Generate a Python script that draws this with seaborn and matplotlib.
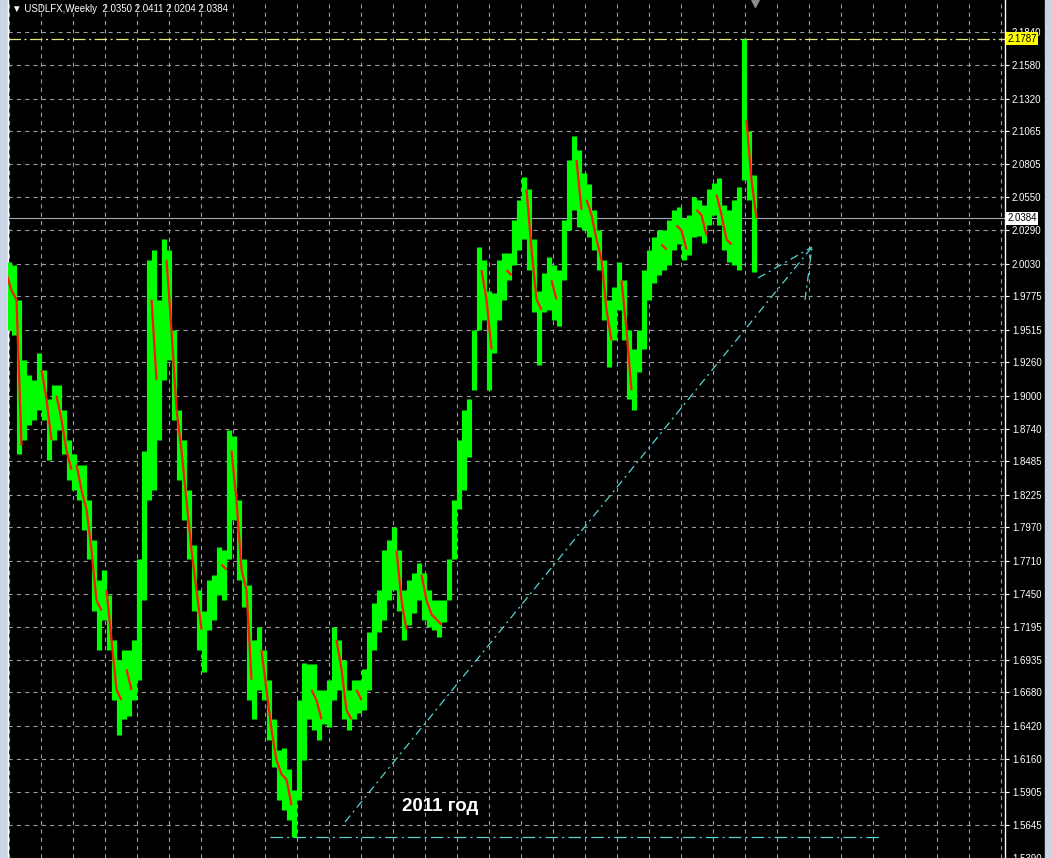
import matplotlib
matplotlib.use("Agg")
import matplotlib.pyplot as plt
import matplotlib.transforms as mtransforms
from matplotlib.patches import Rectangle
from matplotlib.collections import LineCollection
import seaborn as sns
import pandas as pd
import numpy as np

symbol = "USDLFX,Weekly"
last_ohlc = ["2.0350", "2.0411", "2.0204", "2.0384"]

# weekly bars, squeezed (one entry ~ 5 screen bars)
highs = [
    2.004, 2.002, 1.975, 1.928, 1.916, 1.912, 1.933, 1.920, 1.897, 1.908,
    1.908, 1.889, 1.865, 1.854, 1.846, 1.846, 1.818, 1.787, 1.756, 1.764,
    1.744, 1.709, 1.693, 1.701, 1.701, 1.709, 1.772, 1.857, 2.006, 2.014,
    1.975, 2.022, 2.014, 1.951, 1.889, 1.865, 1.826, 1.783, 1.748, 1.732,
    1.756, 1.760, 1.782, 1.779, 1.873, 1.868, 1.818, 1.772, 1.752, 1.709,
    1.719, 1.701, 1.678, 1.647, 1.623, 1.625, 1.608, 1.592, 1.662, 1.691,
    1.690, 1.690, 1.670, 1.670, 1.678, 1.719, 1.709, 1.693, 1.670, 1.678,
    1.678, 1.686, 1.715, 1.738, 1.748, 1.779, 1.787, 1.797, 1.779, 1.748,
    1.756, 1.761, 1.769, 1.761, 1.748, 1.740, 1.740, 1.740, 1.772, 1.818,
    1.865, 1.889, 1.897, 1.951, 2.016, 2.006, 1.982, 1.980, 2.006, 2.011,
    2.011, 2.037, 2.053, 2.071, 2.061, 2.022, 1.982, 1.996, 2.008, 2.002,
    1.998, 2.037, 2.084, 2.103, 2.092, 2.074, 2.065, 2.045, 2.029, 2.006,
    1.975, 1.985, 2.004, 1.990, 1.951, 1.936, 1.951, 1.998, 2.014, 2.024,
    2.029, 2.029, 2.037, 2.045, 2.047, 2.039, 2.041, 2.055, 2.053, 2.049,
    2.061, 2.066, 2.070, 2.049, 2.045, 2.053, 2.063, 2.1787, 2.107, 2.072,
]
lows = [
    1.951, 1.947, 1.854, 1.865, 1.877, 1.881, 1.889, 1.881, 1.850, 1.865,
    1.873, 1.854, 1.834, 1.826, 1.818, 1.795, 1.772, 1.732, 1.701, 1.725,
    1.701, 1.662, 1.635, 1.647, 1.650, 1.662, 1.678, 1.740, 1.818, 1.826,
    1.865, 1.912, 1.928, 1.881, 1.834, 1.803, 1.772, 1.732, 1.701, 1.684,
    1.717, 1.725, 1.744, 1.740, 1.772, 1.803, 1.756, 1.735, 1.662, 1.647,
    1.670, 1.662, 1.631, 1.610, 1.584, 1.576, 1.568, 1.5551, 1.584, 1.615,
    1.647, 1.639, 1.631, 1.643, 1.641, 1.662, 1.670, 1.647, 1.639, 1.647,
    1.652, 1.654, 1.670, 1.701, 1.715, 1.725, 1.740, 1.748, 1.732, 1.709,
    1.721, 1.730, 1.740, 1.725, 1.719, 1.717, 1.711, 1.723, 1.740, 1.772,
    1.811, 1.826, 1.852, 1.904, 1.951, 1.959, 1.904, 1.933, 1.959, 1.975,
    1.990, 2.002, 2.014, 2.022, 1.998, 1.965, 1.924, 1.965, 1.967, 1.959,
    1.954, 1.990, 2.029, 2.045, 2.032, 2.029, 2.024, 2.014, 1.998, 1.959,
    1.922, 1.943, 1.967, 1.943, 1.897, 1.889, 1.918, 1.936, 1.975, 1.988,
    1.994, 1.998, 2.002, 2.014, 2.018, 2.006, 2.010, 2.024, 2.025, 2.019,
    2.033, 2.041, 2.033, 2.014, 2.004, 2.002, 1.998, 2.068, 2.053, 1.9965,
]
closes = [
    1.982, 1.975, 1.861, 1.897, 1.900, 1.904, 1.920, 1.897, 1.865, 1.900,
    1.881, 1.857, 1.842, 1.846, 1.826, 1.811, 1.779, 1.740, 1.732, 1.748,
    1.709, 1.670, 1.662, 1.686, 1.670, 1.693, 1.756, 1.834, 1.975, 1.912,
    1.959, 2.006, 1.951, 1.889, 1.857, 1.818, 1.779, 1.748, 1.717, 1.725,
    1.740, 1.748, 1.768, 1.764, 1.857, 1.818, 1.764, 1.748, 1.678, 1.693,
    1.701, 1.670, 1.639, 1.615, 1.604, 1.600, 1.580, 1.584, 1.647, 1.662,
    1.670, 1.662, 1.647, 1.662, 1.670, 1.709, 1.686, 1.654, 1.647, 1.670,
    1.662, 1.678, 1.709, 1.732, 1.740, 1.772, 1.772, 1.779, 1.740, 1.717,
    1.748, 1.756, 1.760, 1.740, 1.729, 1.725, 1.721, 1.732, 1.764, 1.811,
    1.842, 1.881, 1.889, 1.943, 1.998, 1.975, 1.936, 1.959, 1.998, 1.998,
    1.994, 2.029, 2.045, 2.061, 2.014, 1.975, 1.967, 1.982, 1.990, 1.975,
    1.990, 2.029, 2.076, 2.084, 2.045, 2.053, 2.041, 2.022, 2.006, 1.967,
    1.943, 1.975, 1.990, 1.951, 1.904, 1.928, 1.943, 1.982, 2.006, 2.014,
    2.018, 2.014, 2.022, 2.033, 2.029, 2.014, 2.025, 2.045, 2.041, 2.025,
    2.053, 2.057, 2.041, 2.022, 2.018, 2.029, 2.057, 2.115, 2.068, 2.0384,
]
first_open = 1.995

price_ticks = [2.1840, 2.1580, 2.1320, 2.1065, 2.0805, 2.0550, 2.0290, 2.0030,
               1.9775, 1.9515, 1.9260, 1.9000, 1.8740, 1.8485, 1.8225, 1.7970,
               1.7710, 1.7450, 1.7195, 1.6935, 1.6680, 1.6420, 1.6160, 1.5905,
               1.5645, 1.5390]
max_level = 2.1787
last_price = 2.0384
low_level = 1.5551
note = "2011 год"

df = pd.DataFrame({"high": highs, "low": lows, "close": closes})
df["bar"] = np.arange(len(df))
df["open"] = df["close"].shift(1).fillna(first_open)
down = df[df["close"] < df["open"]]

sns.set_theme(style="dark", rc={
    "axes.facecolor": "black",
    "figure.facecolor": "black",
    "lines.scale_dashes": False,
})
plt.rcParams["font.family"] = ["Liberation Sans", "DejaVu Sans"]

fig = plt.figure(figsize=(10.52, 8.58), dpi=100)
# window frame strips left / right
fig.patches.append(Rectangle((0, 0), 7 / 1052, 1, transform=fig.transFigure,
                             color="#c9d5e6", zorder=-1))
fig.patches.append(Rectangle((1045 / 1052, 0), 7 / 1052, 1, transform=fig.transFigure,
                             color="#c9d5e6", zorder=-1))
ax = fig.add_axes([8 / 1052, 0, 997 / 1052, 1])
ax.set_facecolor("black")

ax.set_xlim(-0.2, 199.2)
ax.set_ylim(1.5387, 2.209)

# grid
ax.set_xticks(np.arange(0, 200, 6.4))
ax.set_yticks(price_ticks)
ax.set_yticklabels([f"{v:.4f}" for v in price_ticks])
ax.set_axisbelow(True)
ax.grid(True, color="#9c9c9c", linestyle=(0, (3, 3)), linewidth=0.8)

ax.yaxis.tick_right()
ax.tick_params(axis="x", length=0, labelbottom=False)
ax.tick_params(axis="y", colors="white", labelcolor="white", labelsize=7,
               length=3, width=0.8, pad=2, direction="out")
for side in ["top", "bottom"]:
    ax.spines[side].set_visible(False)
for side in ["left", "right"]:
    ax.spines[side].set_visible(True)
    ax.spines[side].set_color("white")
    ax.spines[side].set_linewidth(1.0)

# level lines
ax.axhline(last_price, color="#a4acb4", lw=0.8, zorder=1.5)
ax.axhline(max_level, color="#e6e67a", lw=0.9, linestyle=(0, (9, 2.5, 1.5, 2.5)), zorder=1.5)

# bars: green high-low, red trace through the falling weeks
ax.vlines(df["bar"], df["low"], df["high"], color="#00ff00", lw=3.7, zorder=3)
red_segs = [[(b - 0.5, o), (b + 0.5, c)] for b, o, c in
            zip(down["bar"], down["open"], down["close"])]
ax.add_collection(LineCollection(red_segs, colors="#ff1500", linewidths=1.6, zorder=4))

# hand drawn objects
cyan = "#55d4d4"
dashdot = (0, (6, 3, 1.5, 3))
ax.plot([52.2, 174.2], [low_level, low_level], color=cyan, lw=0.9,
        linestyle=(0, (9, 3, 1.5, 3)), zorder=2)
ax.plot([67.2, 160.6], [1.5668, 2.016], color=cyan, lw=0.9, linestyle=dashdot, zorder=2)
ax.plot([149.8, 160.6], [1.9918, 2.016], color=cyan, lw=0.9, linestyle=dashdot, zorder=2)
ax.plot([159.2, 160.6], [1.9746, 2.016], color=cyan, lw=0.9, linestyle=dashdot, zorder=2)
ax.text(78.6, 1.5793, note, color="white", fontsize=13.5, fontweight="bold",
        ha="left", va="center", zorder=6)

# chart shift marker
ax.plot([149.2], [2.2065], marker="v", color="#8c8c8c", ms=6, clip_on=False, zorder=6)

# header
ax.text(0.004, 0.9895, "▼ " + symbol + "  " + " ".join(last_ohlc), transform=ax.transAxes,
        color="white", fontsize=7, ha="left", va="center", zorder=6)

# price labels on the scale
trans = mtransforms.blended_transform_factory(ax.transAxes, ax.transData)
ax.text(1.0025, max_level, f"{max_level:.4f}", transform=trans, color="black", fontsize=7,
        ha="left", va="center", clip_on=False, zorder=10,
        bbox=dict(boxstyle="square,pad=0.15", fc="#ffff00", ec="none"))
ax.text(1.0025, last_price, f"{last_price:.4f}", transform=trans, color="black", fontsize=7,
        ha="left", va="center", clip_on=False, zorder=10,
        bbox=dict(boxstyle="square,pad=0.15", fc="white", ec="none"))

fig.savefig("out.png", dpi=100, facecolor=fig.get_facecolor())
